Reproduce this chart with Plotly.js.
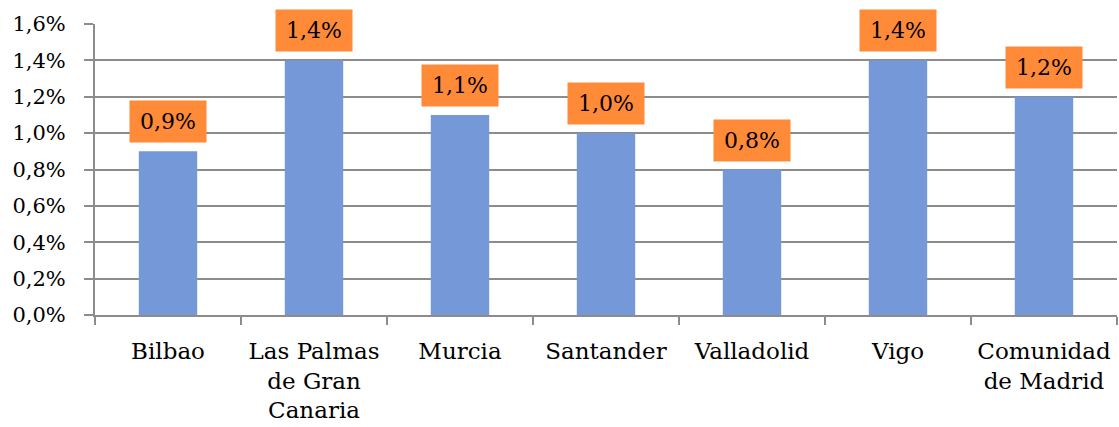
<!DOCTYPE html>
<html>
<head>
<meta charset="utf-8">
<script src="https://cdn.plot.ly/plotly-3.0.1.min.js"></script>
<style>html,body{margin:0;padding:0;background:#fff;}#chart{width:1119px;height:427px;}</style>
</head>
<body>
<div id="chart"></div>
<script>
const categories = ["Bilbao", "Las Palmas<br>de Gran<br>Canaria", "Murcia", "Santander", "Valladolid", "Vigo", "Comunidad<br>de Madrid"];
const values = [0.009, 0.014, 0.011, 0.010, 0.008, 0.014, 0.012];
const yTickVals = [0, 0.002, 0.004, 0.006, 0.008, 0.010, 0.012, 0.014, 0.016];

const FONT = "'DejaVu Serif', 'Liberation Serif', serif";
const fmt = v => (v * 100).toFixed(1).replace('.', ',') + '%';

const trace = {
  type: 'bar',
  x: categories,
  y: values,
  marker: {color: '#7599D8'},
  hoverinfo: 'none'
};

const annotations = categories.map((c, i) => ({
  x: c, y: values[i], xref: 'x', yref: 'y',
  text: fmt(values[i]),
  showarrow: false,
  yanchor: 'bottom',
  yshift: 8,
  bgcolor: '#FF8A38',
  width: 72, height: 37, borderpad: 2,
  font: {family: FONT, size: 22, color: '#000'}
}));

const layout = {
  width: 1119, height: 427,
  margin: {l: 95, r: 2, t: 24, b: 112},
  paper_bgcolor: '#fff', plot_bgcolor: '#fff',
  separators: ', ',
  bargap: 0.6,
  showlegend: false,
  font: {family: FONT, size: 22, color: '#000'},
  xaxis: {
    type: 'category',
    tickson: 'boundaries',
    ticks: 'outside', ticklen: 8, tickwidth: 2, tickcolor: '#8C8C8C',
    showline: true, linecolor: '#8C8C8C', linewidth: 2,
    showgrid: false, zeroline: false,
    tickfont: {family: FONT, size: 23, color: '#000'},
    ticklabelstandoff: 14
  },
  yaxis: {
    range: [0, 0.016],
    tickvals: yTickVals,
    tickformat: '.1%',
    ticks: 'outside', ticklen: 9, tickwidth: 2, tickcolor: '#8C8C8C',
    showline: true, linecolor: '#8C8C8C', linewidth: 2,
    showgrid: true, gridcolor: '#8C8C8C', gridwidth: 2,
    zeroline: false,
    tickfont: {family: FONT, size: 21, color: '#000'},
    ticklabelstandoff: 14
  },
  annotations: annotations
};

Plotly.newPlot('chart', [trace], layout, {staticPlot: true, displayModeBar: false});
</script>
</body>
</html>
